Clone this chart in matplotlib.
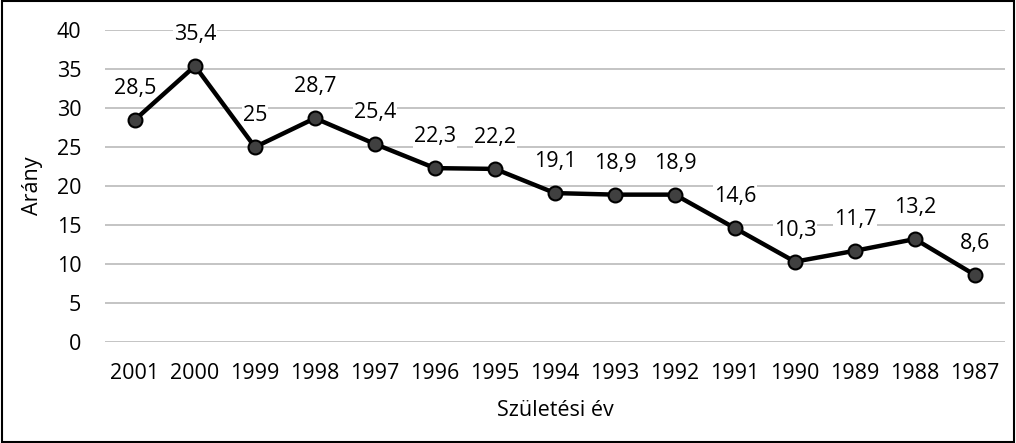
import matplotlib.pyplot as plt
from matplotlib.patches import Rectangle

years = ['2001', '2000', '1999', '1998', '1997', '1996', '1995', '1994',
         '1993', '1992', '1991', '1990', '1989', '1988', '1987']
values = [28.5, 35.4, 25, 28.7, 25.4, 22.3, 22.2, 19.1, 18.9, 18.9, 14.6, 10.3, 11.7, 13.2, 8.6]
labels = ['28,5', '35,4', '25', '28,7', '25,4', '22,3', '22,2', '19,1',
          '18,9', '18,9', '14,6', '10,3', '11,7', '13,2', '8,6']

fs = 15.5
plt.rcParams['font.family'] = ['Open Sans', 'DejaVu Sans']
fig = plt.figure(figsize=(10.16, 4.43), dpi=100)
ax = fig.add_axes([0.1033, 0.228, 0.8858, 0.704])

x = list(range(len(years)))
ax.plot(x, values, color='black', lw=3.2, marker='o', ms=10,
        markerfacecolor='#404040', markeredgecolor='black', markeredgewidth=1.5, zorder=3)
for xi, v, lab in zip(x, values, labels):
    ax.annotate(lab, (xi, v), xytext=(0, 15), textcoords='offset points',
                ha='center', va='bottom', fontsize=fs, color='black',
                bbox=dict(boxstyle='square,pad=0.05', fc='white', ec='none'), zorder=2.5)

ax.set_xlim(-0.5, len(years) - 0.5)
ax.set_ylim(0, 40)
ax.set_yticks(range(0, 41, 5))
ax.set_xticks(x)
ax.set_xticklabels(years)
ax.yaxis.grid(True, color='#bfbfbf', lw=1.3, zorder=1)
ax.set_axisbelow(True)
for s in ax.spines.values():
    s.set_visible(False)
ax.tick_params(length=0, labelsize=fs)
ax.tick_params(axis='x', pad=15)
ax.tick_params(axis='y', pad=17)
ax.set_ylabel('Arány', fontsize=fs, labelpad=10)
ax.set_xlabel('Születési év', fontsize=fs, labelpad=12)

fig.patches.append(Rectangle((0.002, 0.003), 0.996, 0.994, transform=fig.transFigure,
                             fill=False, ec='black', lw=1.5))
fig.savefig('out.png', dpi=100)
